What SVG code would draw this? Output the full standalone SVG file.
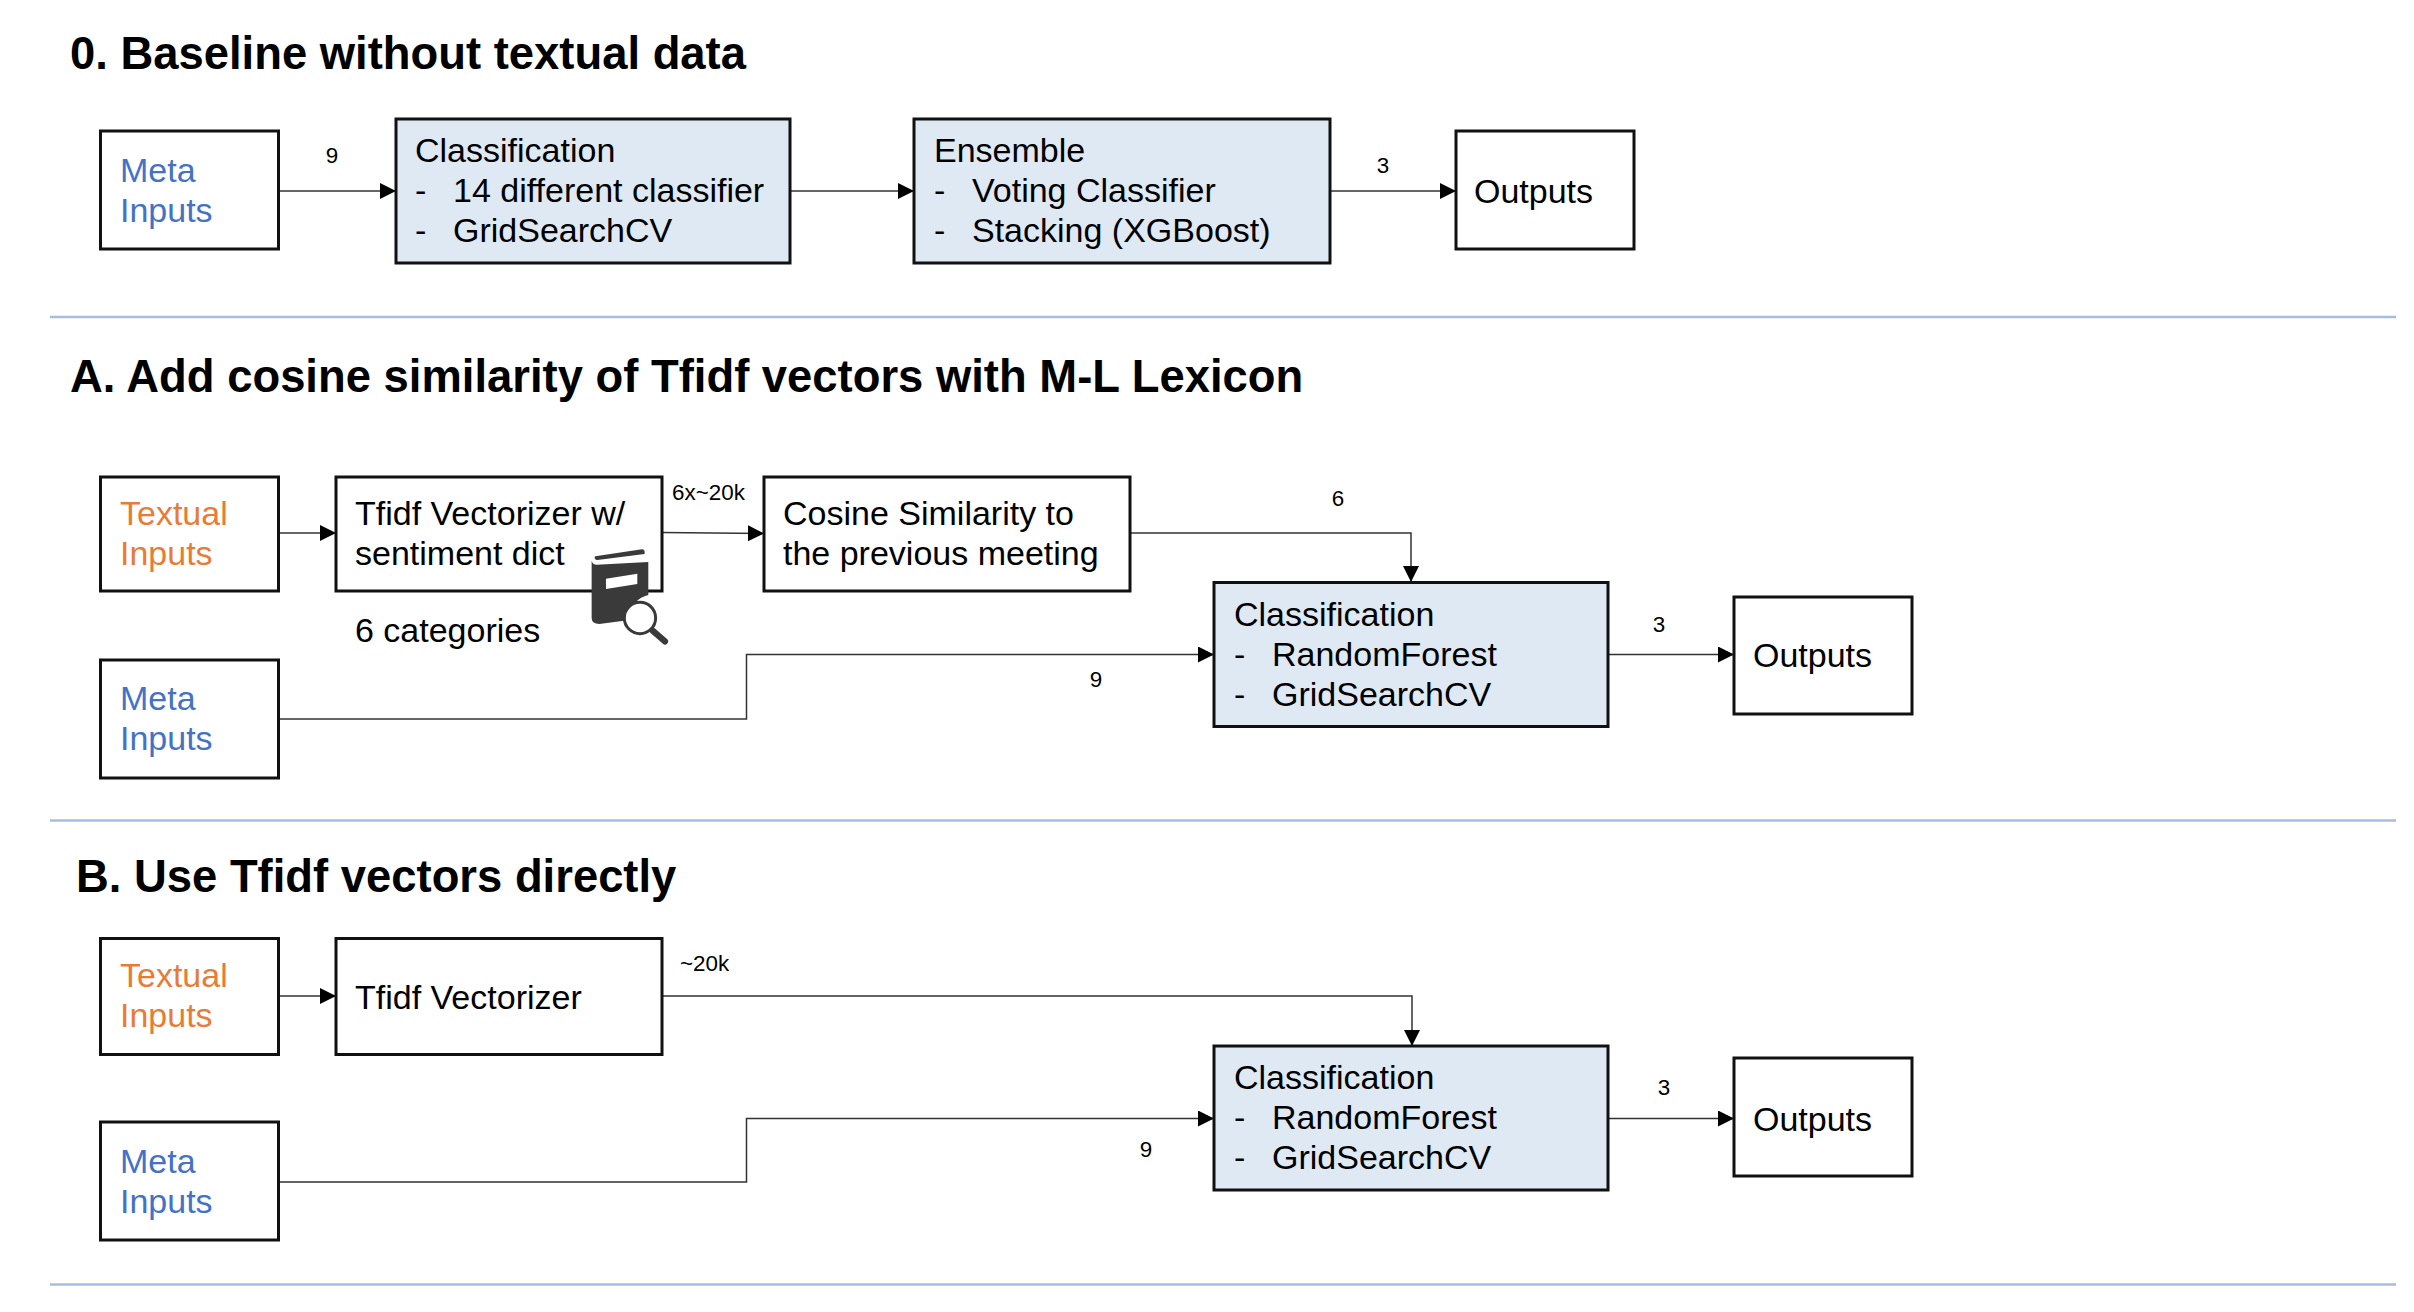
<svg xmlns="http://www.w3.org/2000/svg" width="2414" height="1312" viewBox="0 0 2414 1312">
<style>
text{font-family:"Liberation Sans",Arial,sans-serif;fill:#000}
.t{font-size:45.4px;font-weight:700}
.n{font-size:34px}
.l{font-size:22.4px}
.m{fill:#4472c4}
.o{fill:#e67c36}
.b{fill:#fff;stroke:#111;stroke-width:3}
.c{fill:#dfe9f4;stroke:#111;stroke-width:3}
.w{fill:none;stroke:#333;stroke-width:1.5;marker-end:url(#a)}
.s{stroke:#a9bbdf;stroke-width:2.4}
</style>
<defs>
<marker id="a" markerUnits="userSpaceOnUse" markerWidth="17" markerHeight="17" refX="16" refY="8" orient="auto"><path d="M0 0L16 8L0 16Z" fill="#000"/></marker>
</defs>
<rect width="2414" height="1312" fill="#fff"/>
<g id="titles">
<text class="t" x="70" y="69">0. Baseline without textual data</text>
<text class="t" x="70" y="392">A. Add cosine similarity of Tfidf vectors with M-L Lexicon</text>
<text class="t" x="76" y="892">B. Use Tfidf vectors directly</text>
</g>
<g id="separators">
<line class="s" x1="50" y1="317" x2="2396" y2="317"/>
<line class="s" x1="50" y1="820.500" x2="2396" y2="820.500"/>
<line class="s" x1="50" y1="1284.500" x2="2396" y2="1284.500"/>
</g>
<g id="connectors">
<path class="w" d="M278 191H396"/>
<path class="w" d="M790 191H914"/>
<path class="w" d="M1330 191H1456"/>
<path class="w" d="M278 533H336"/>
<path class="w" d="M662 532.500L764 533.500"/>
<path class="w" d="M1130 533H1411V582"/>
<path class="w" d="M278 719H746.500V654.500H1214"/>
<path class="w" d="M1608 654.500H1734"/>
<path class="w" d="M278 996H336"/>
<path class="w" d="M662 996H1412V1046"/>
<path class="w" d="M278 1182H746.500V1118.500H1214"/>
<path class="w" d="M1608 1118.500H1734"/>
<text class="l" x="332" y="163" text-anchor="middle">9</text>
<text class="l" x="1383" y="173" text-anchor="middle">3</text>
<text class="l" x="672" y="500">6x~20k</text>
<text class="l" x="1338" y="506" text-anchor="middle">6</text>
<text class="l" x="1096" y="687" text-anchor="middle">9</text>
<text class="l" x="1659" y="632" text-anchor="middle">3</text>
<text class="l" x="680" y="971">~20k</text>
<text class="l" x="1146" y="1157" text-anchor="middle">9</text>
<text class="l" x="1664" y="1095" text-anchor="middle">3</text>
</g>
<g id="n0-meta"><rect class="b" x="100.500" y="131" width="178" height="118"/><text class="n m" x="120" y="182">Meta</text><text class="n m" x="120" y="222">Inputs</text></g>
<g id="n0-class"><rect class="c" x="396" y="119" width="394" height="144"/><text class="n" x="415" y="162">Classification</text><text class="n" x="415" y="202">-</text><text class="n" x="453" y="202">14 different classifier</text><text class="n" x="415" y="242">-</text><text class="n" x="453" y="242">GridSearchCV</text></g>
<g id="n0-ensemble"><rect class="c" x="914" y="119" width="416" height="144"/><text class="n" x="934" y="162">Ensemble</text><text class="n" x="934" y="202">-</text><text class="n" x="972" y="202">Voting Classifier</text><text class="n" x="934" y="242">-</text><text class="n" x="972" y="242">Stacking (XGBoost)</text></g>
<g id="n0-outputs"><rect class="b" x="1456" y="131" width="178" height="118"/><text class="n" x="1474" y="203">Outputs</text></g>
<g id="nA-textual"><rect class="b" x="100.500" y="477" width="178" height="114"/><text class="n o" x="120" y="525">Textual</text><text class="n o" x="120" y="565">Inputs</text></g>
<g id="nA-tfidf"><rect class="b" x="336" y="477" width="326" height="114"/><text class="n" x="355" y="525">Tfidf Vectorizer w/</text><text class="n" x="355" y="565">sentiment dict</text><text class="n" x="355" y="642">6 categories</text></g>
<g id="nA-book" transform="translate(300 460) scale(.3333)" fill="#3a3a3a">
<path d="M886 289L1026 268Q1034 268 1034 276V282L892 300Q887 300 885 296Q882 291 886 289Z"/>
<path d="M875 302Q878 314 890 314L1045 306V405Q1000 415 972 482L898 492Q876 492 875 475Z"/>
<path d="M918 356L1012 341V372L918 387Z" fill="#fff"/>
<circle cx="1020" cy="474" r="47" fill="#fff" stroke="#3a3a3a" stroke-width="9"/>
<path d="M1058 512L1095 544" stroke="#3a3a3a" stroke-width="19" stroke-linecap="round" fill="none"/>
</g>
<g id="nA-cosine"><rect class="b" x="764" y="477" width="366" height="114"/><text class="n" x="783" y="525">Cosine Similarity to</text><text class="n" x="783" y="565">the previous meeting</text></g>
<g id="nA-meta"><rect class="b" x="100.500" y="660" width="178" height="118"/><text class="n m" x="120" y="710">Meta</text><text class="n m" x="120" y="750">Inputs</text></g>
<g id="nA-class"><rect class="c" x="1214" y="582.500" width="394" height="144"/><text class="n" x="1234" y="626">Classification</text><text class="n" x="1234" y="666">-</text><text class="n" x="1272" y="666">RandomForest</text><text class="n" x="1234" y="706">-</text><text class="n" x="1272" y="706">GridSearchCV</text></g>
<g id="nA-outputs"><rect class="b" x="1734" y="597" width="178" height="117"/><text class="n" x="1753" y="667">Outputs</text></g>
<g id="nB-textual"><rect class="b" x="100.500" y="938.500" width="178" height="116"/><text class="n o" x="120" y="987">Textual</text><text class="n o" x="120" y="1027">Inputs</text></g>
<g id="nB-tfidf"><rect class="b" x="336" y="938.500" width="326" height="116"/><text class="n" x="355" y="1009">Tfidf Vectorizer</text></g>
<g id="nB-meta"><rect class="b" x="100.500" y="1122" width="178" height="118"/><text class="n m" x="120" y="1173">Meta</text><text class="n m" x="120" y="1213">Inputs</text></g>
<g id="nB-class"><rect class="c" x="1214" y="1046" width="394" height="144"/><text class="n" x="1234" y="1089">Classification</text><text class="n" x="1234" y="1129">-</text><text class="n" x="1272" y="1129">RandomForest</text><text class="n" x="1234" y="1169">-</text><text class="n" x="1272" y="1169">GridSearchCV</text></g>
<g id="nB-outputs"><rect class="b" x="1734" y="1058" width="178" height="118"/><text class="n" x="1753" y="1131">Outputs</text></g>
</svg>
